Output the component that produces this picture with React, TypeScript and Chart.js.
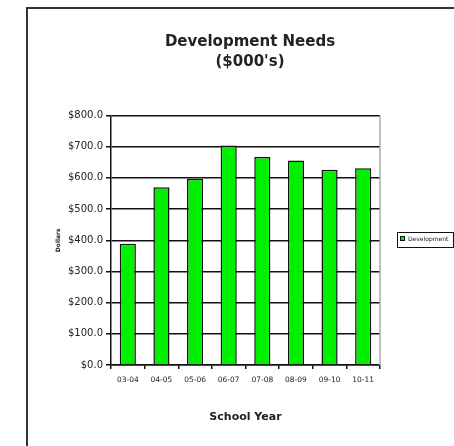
import React, { useEffect, useRef } from "react";
import { Chart, registerables } from "chart.js";

Chart.register(...registerables);

const categories = ["03-04", "04-05", "05-06", "06-07", "07-08", "08-09", "09-10", "10-11"];
const developmentValues = [389, 570, 597, 704, 667, 656, 626, 631];
const seriesName = "Development";
const titleLines = ["Development Needs", "($000's)"];
const xAxisTitle = "School Year";
const yAxisTitle = "Dollars";

const frameAndLegend = {
  id: "frameAndLegend",
  afterLayout(chart: any) {
    const tb = chart.titleBlock;
    if (tb) {
      tb.left += 4.5;
      tb.right += 4.5;
    }
  },
  afterDraw(chart: any) {
    const ctx = chart.ctx;
    const ca = chart.chartArea;
    ctx.save();
    // outer border
    ctx.strokeStyle = "#333";
    ctx.lineWidth = 2;
    ctx.beginPath();
    ctx.moveTo(27, chart.height + 2);
    ctx.lineTo(27, 8);
    ctx.lineTo(chart.width + 2, 8);
    ctx.stroke();
    // plot right edge
    ctx.strokeStyle = "#aaa";
    ctx.lineWidth = 1.5;
    ctx.beginPath();
    ctx.moveTo(ca.right, ca.top);
    ctx.lineTo(ca.right, ca.bottom);
    ctx.stroke();
    // legend
    const lx = 397, ly = 232, lw = 56, lh = 15;
    ctx.fillStyle = "#fff";
    ctx.fillRect(lx, ly, lw, lh);
    ctx.strokeStyle = "#111";
    ctx.lineWidth = 1;
    ctx.strokeRect(lx + 0.5, ly + 0.5, lw, lh);
    ctx.fillStyle = "#00ee00";
    ctx.fillRect(400, 236, 4, 4);
    ctx.strokeStyle = "#111";
    ctx.strokeRect(400.5, 236.5, 4, 4);
    ctx.fillStyle = "#222";
    ctx.font = "6px 'DejaVu Sans'";
    ctx.textBaseline = "middle";
    ctx.textAlign = "left";
    ctx.fillText(seriesName, 408, 239.5);
    ctx.restore();
  },
};

export default function App() {
  const ref = useRef<HTMLCanvasElement | null>(null);
  useEffect(() => {
    if (!ref.current) return;
    const chart = new Chart(ref.current, {
      type: "bar",
      data: {
        labels: categories,
        datasets: [
          {
            label: seriesName,
            data: developmentValues,
            backgroundColor: "#00f000",
            borderColor: "#111",
            borderWidth: 1.5,
            barPercentage: 0.48,
            categoryPercentage: 1,
          },
        ],
      },
      options: {
        animation: false,
        responsive: false,
        maintainAspectRatio: false,
        layout: { padding: { left: 0, right: 74, top: 0, bottom: 0 } },
        plugins: {
          legend: { display: false },
          tooltip: { enabled: false },
          title: {
            display: true,
            text: titleLines,
            fullSize: false,
            color: "#222",
            font: { family: "'DejaVu Sans'", size: 15, weight: "bold", lineHeight: 20 / 15 },
            padding: { top: 32, bottom: 43.5 },
          },
        },
        scales: {
          x: {
            afterFit: (s: any) => {
              s.height = 81;
            },
            grid: {
              display: true,
              drawOnChartArea: false,
              drawTicks: true,
              tickLength: 4,
              color: "#111",
              lineWidth: 1.5,
              offset: true,
            },
            border: { display: true, color: "#111", width: 1.5 },
            ticks: {
              color: "#222",
              font: { family: "'DejaVu Sans'", size: 7.5 },
              padding: 7,
              maxRotation: 0,
              autoSkip: false,
            },
            title: {
              display: true,
              text: xAxisTitle,
              color: "#222",
              font: { family: "'DejaVu Sans'", size: 11, weight: "bold", lineHeight: 1.2 },
              padding: { top: 0, bottom: 22 },
            },
          },
          y: {
            min: 0,
            max: 800,
            afterFit: (s: any) => {
              s.width = 111;
            },
            grid: {
              color: "#111",
              lineWidth: 1.5,
              tickLength: 5,
            },
            border: { display: true, color: "#111", width: 1.5 },
            ticks: {
              stepSize: 100,
              color: "#222",
              font: { family: "'DejaVu Sans'", size: 10 },
              padding: 3,
              callback: (v: any) => "$" + Number(v).toFixed(1),
            },
            title: {
              display: true,
              text: yAxisTitle,
              color: "#222",
              font: { family: "'DejaVu Sans'", size: 6, weight: "bold", lineHeight: 1.2 },
              padding: { top: 54.4, bottom: 0 },
            },
          },
        },
      },
      plugins: [frameAndLegend],
    });
    return () => chart.destroy();
  }, []);
  return (
    <div style={{ position: "absolute", left: 0, top: 0, width: 454, height: 446, background: "#fff" }}>
      <canvas ref={ref} width={454} height={446} style={{ display: "block", width: 454, height: 446 }} />
    </div>
  );
}
